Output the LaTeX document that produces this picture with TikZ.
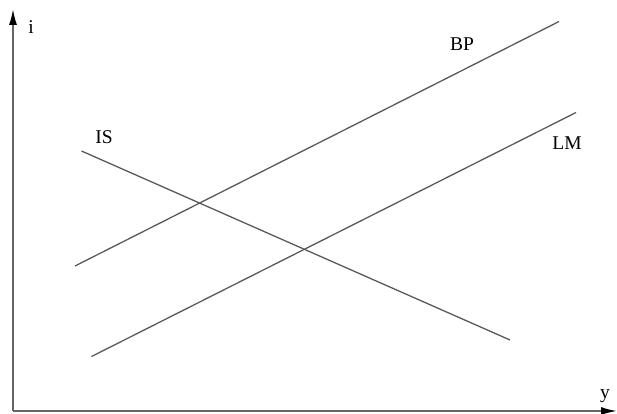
\documentclass[tikz,border=0pt]{standalone}
\usepackage{fontspec}
\setmainfont{Liberation Serif}
\usetikzlibrary{arrows.meta}
\begin{document}
\begin{tikzpicture}[x=1pt,y=-1pt,
  curve/.style={line width=1.3pt, draw=black!65},
  axis/.style={line width=1.7pt, draw=black!60, -{Latex[length=16pt,width=8pt,black]}},
  lbl/.style={font=\fontsize{19.5}{22}\selectfont, inner sep=0pt, text=black}]
\useasboundingbox (0,0) rectangle (617,414);
\coordinate (o) at (13,411);
\coordinate (ytop) at (13,9);
\coordinate (xend) at (617,411);
\draw[axis] (o) -- (ytop);
\draw[axis] (o) -- (xend);
\node[lbl] (i) at (31,27) {i};
\node[lbl] (y) at (605,396) {y};
\coordinate (bp1) at (75,266);
\coordinate (bp2) at (559,21.5);
\coordinate (lm1) at (91.5,356.5);
\coordinate (lm2) at (576,112.5);
\coordinate (is1) at (81.5,151);
\coordinate (is2) at (510,340);
\draw[curve] (bp1) -- (bp2);
\draw[curve] (lm1) -- (lm2);
\draw[curve] (is1) -- (is2);
\node[lbl] (bp) at (462,44) {BP};
\node[lbl] (lm) at (567,143) {LM};
\node[lbl] (is) at (104,137) {IS};
\end{tikzpicture}
\end{document}
